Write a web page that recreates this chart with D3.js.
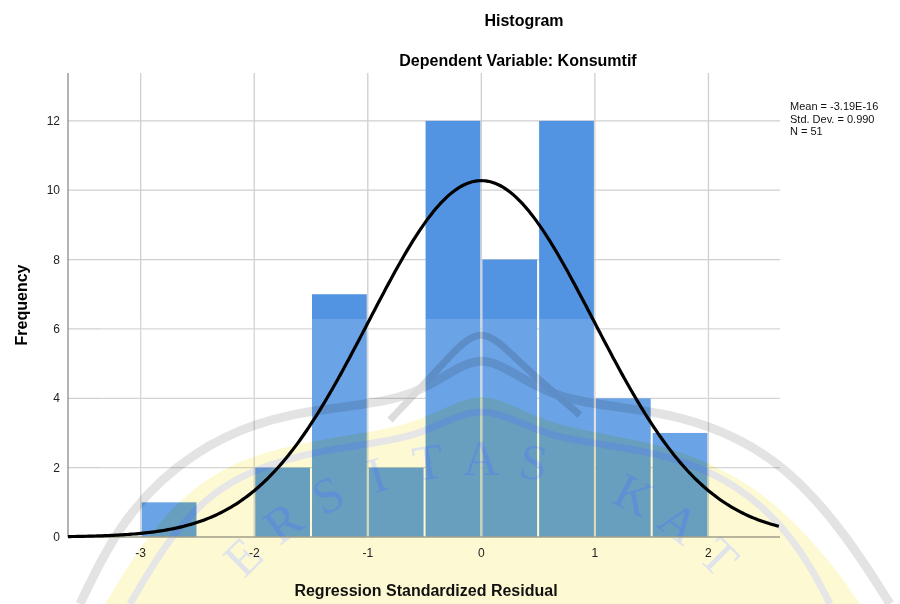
<!DOCTYPE html>
<html>
<head>
<meta charset="utf-8">
<script src="https://cdn.jsdelivr.net/npm/d3@7"></script>
<style>
  body { margin: 0; background: #fff; }
  svg { display: block; font-family: "Liberation Sans", Arial, sans-serif; }
</style>
</head>
<body>
<div id="chart"></div>
<script>
// histogram bins (lower edge, width 0.5) and counts
var binStarts = [-3, -2.5, -2, -1.5, -1, -0.5, 0, 0.5, 1, 1.5];
var counts = [1, 0, 2, 7, 2, 12, 8, 12, 4, 3];
var binWidth = 0.5;

var xTicks = [-3, -2, -1, 0, 1, 2];
var yTicks = [0, 2, 4, 6, 8, 10, 12];

// reported statistics (used for the normal curve)
var statMean = -3.19e-16;
var statSd = 0.990;
var statN = 51;
var statLabels = ['Mean = -3.19E-16', 'Std. Dev. = 0.990', 'N = 51'];

var watermarkLetters = ['E', 'R', 'S', 'I', 'T', 'A', 'S', ' ', 'K', 'A', 'T'];

var width = 900, height = 604;
var plotLeft = 68, plotRight = 780, plotTop = 73, plotBottom = 537;

var svg = d3.select('#chart').append('svg')
    .attr('width', width)
    .attr('height', height);

var x = d3.scaleLinear().domain([-3.64, 2.63]).range([plotLeft, plotRight]);
var y = d3.scaleLinear().domain([0, 13.38]).range([plotBottom, plotTop]);

// grid
svg.append('g')
    .selectAll('line')
    .data(yTicks.slice(1))
    .join('line')
    .attr('x1', plotLeft).attr('x2', plotRight)
    .attr('y1', d => y(d)).attr('y2', d => y(d))
    .attr('stroke', '#cfcfcf').attr('stroke-width', 1.3);

svg.append('g')
    .selectAll('line')
    .data(xTicks)
    .join('line')
    .attr('x1', d => x(d)).attr('x2', d => x(d))
    .attr('y1', plotTop).attr('y2', plotBottom)
    .attr('stroke', '#cfcfcf').attr('stroke-width', 1.3);

// bars
var bins = binStarts.map((b, i) => ({x0: b, x1: b + binWidth, n: counts[i]}));
svg.append('g')
    .selectAll('rect')
    .data(bins.filter(d => d.n > 0))
    .join('rect')
    .attr('x', d => x(d.x0) + 1)
    .attr('width', d => x(d.x1) - x(d.x0) - 2)
    .attr('y', d => y(d.n))
    .attr('height', d => y(0) - y(d.n))
    .attr('fill', '#5294e2');

// faint watermark (university logo) laid over the plot
svg.append('rect')
    .attr('x', 100).attr('y', 319).attr('width', 760).attr('height', 285)
    .attr('fill', '#ffffff').attr('opacity', 0.14);

var wm = svg.append('g').style('mix-blend-mode', 'multiply');
var roof = d3.line().curve(d3.curveBasis);
wm.append('path')
    .attr('d', roof([[105, 604], [150, 530], [210, 470], [300, 440], [420, 428], [481, 382],
                     [545, 428], [660, 440], [760, 485], [830, 560], [860, 604]]) + 'Z')
    .attr('fill', '#fdf9d3');
wm.append('path')
    .attr('d', roof([[80, 604], [120, 520], [190, 450], [290, 408], [420, 404], [481, 340],
                     [545, 404], [670, 408], [780, 455], [850, 540], [890, 604]]))
    .attr('fill', 'none').attr('stroke', '#e3e3e3').attr('stroke-width', 9);
wm.append('path')
    .attr('d', roof([[130, 604], [170, 535], [225, 478], [320, 448], [420, 440], [481, 398],
                     [545, 440], [650, 448], [740, 482], [800, 545], [830, 604]]))
    .attr('fill', 'none').attr('stroke', '#e6e6e6').attr('stroke-width', 7);
wm.append('path')
    .attr('d', roof([[390, 420], [445, 362], [481, 322], [518, 362], [580, 415]]))
    .attr('fill', 'none').attr('stroke', '#dcdcdc').attr('stroke-width', 7);

var arcR = 320, arcCx = 481, arcCy = 795;
var angleScale = d3.scaleLinear().domain([0, watermarkLetters.length - 1]).range([-45, 45]);
wm.append('g')
    .selectAll('text')
    .data(watermarkLetters)
    .join('text')
    .attr('transform', (d, i) => {
        var a = angleScale(i) * Math.PI / 180;
        return 'translate(' + (arcCx + arcR * Math.sin(a)) + ',' + (arcCy - arcR * Math.cos(a)) + ')rotate(' + angleScale(i) + ')';
    })
    .attr('text-anchor', 'middle')
    .attr('font-family', 'Liberation Serif, serif')
    .attr('font-size', 50)
    .attr('fill', '#dfe3ea')
    .text(d => d);

// axes lines
svg.append('line')
    .attr('x1', plotLeft).attr('x2', plotLeft).attr('y1', plotTop).attr('y2', plotBottom)
    .attr('stroke', '#8a8a8a').attr('stroke-width', 1.3);
svg.append('line')
    .attr('x1', plotLeft).attr('x2', plotRight).attr('y1', plotBottom).attr('y2', plotBottom)
    .attr('stroke', '#a09e8a').attr('stroke-width', 1.5);

// normal curve fitted from the reported mean / sd / N
var curveXs = d3.range(-3.64, 2.64, 0.02);
var curve = curveXs.map(v => [v, statN * binWidth / (statSd * Math.sqrt(2 * Math.PI)) *
    Math.exp(-0.5 * Math.pow((v - statMean) / statSd, 2))]);
svg.append('path')
    .datum(curve)
    .attr('d', d3.line().x(d => x(d[0])).y(d => y(d[1])))
    .attr('fill', 'none')
    .attr('stroke', '#000')
    .attr('stroke-width', 3.2);

// tick labels
svg.append('g')
    .selectAll('text')
    .data(yTicks)
    .join('text')
    .attr('x', 60).attr('y', d => y(d) + 4)
    .attr('text-anchor', 'end')
    .attr('font-size', 12)
    .attr('fill', '#222')
    .text(d => d);

svg.append('g')
    .selectAll('text')
    .data(xTicks)
    .join('text')
    .attr('x', d => x(d)).attr('y', 557)
    .attr('text-anchor', 'middle')
    .attr('font-size', 12)
    .attr('fill', '#222')
    .text(d => d);

// titles
svg.append('text')
    .attr('x', 524).attr('y', 26)
    .attr('text-anchor', 'middle')
    .attr('font-size', 16).attr('font-weight', 'bold')
    .text('Histogram');
svg.append('text')
    .attr('x', 518).attr('y', 66)
    .attr('text-anchor', 'middle')
    .attr('font-size', 16).attr('font-weight', 'bold')
    .text('Dependent Variable: Konsumtif');

svg.append('text')
    .attr('x', 426).attr('y', 596)
    .attr('text-anchor', 'middle')
    .attr('font-size', 16).attr('font-weight', 'bold')
    .attr('fill', '#111')
    .text('Regression Standardized Residual');

svg.append('text')
    .attr('transform', 'translate(27,305)rotate(-90)')
    .attr('text-anchor', 'middle')
    .attr('font-size', 16).attr('font-weight', 'bold')
    .text('Frequency');

// stats box text
svg.append('g')
    .selectAll('text')
    .data(statLabels)
    .join('text')
    .attr('x', 790).attr('y', (d, i) => 110 + i * 12.5)
    .attr('font-size', 11)
    .attr('fill', '#111')
    .text(d => d);
</script>
</body>
</html>
